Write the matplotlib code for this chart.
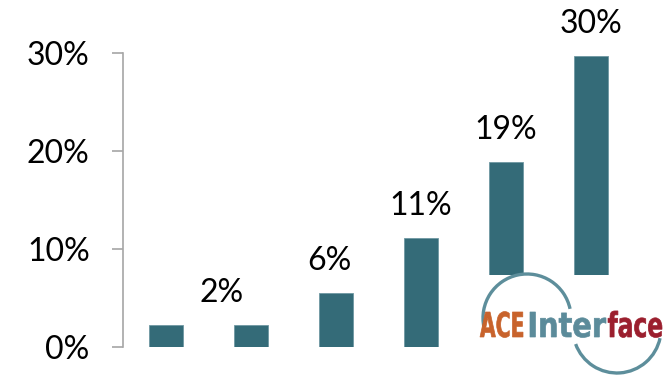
import matplotlib
matplotlib.use("Agg")
import matplotlib.pyplot as plt
from matplotlib.patches import Rectangle, Arc, PathPatch
from matplotlib.textpath import TextPath
from matplotlib.font_manager import FontProperties
from matplotlib.transforms import Affine2D

# Data
categories = ["A", "B", "C", "D", "E", "F"]
values = [2.2, 2.2, 5.5, 11.1, 18.9, 29.7]
labels = ["", "2%", "6%", "11%", "19%", "30%"]
label_dx = [0.0, -0.35, -0.08, 0.0, 0.0, 0.0]
yticks = [0, 10, 20, 30]
ytick_labels = ["0%", "10%", "20%", "30%"]

W, H = 664, 383
fig = plt.figure(figsize=(W / 100, H / 100), dpi=100)
plt.rcParams["font.family"] = ["Lato", "DejaVu Sans"]

bar_color = "#346b78"
axis_color = "#a6a6a6"

ax = fig.add_axes([123 / W, 36 / H, (662 - 123) / W, 294 / H])
x = list(range(len(categories)))
ax.bar(x, values, width=0.4, color=bar_color, edgecolor="#6f98a2", linewidth=0.6)
ax.set_xlim(-0.506, 5.84)
ax.set_ylim(0, 30)
ax.set_xticks([])
ax.set_yticks(yticks)
ax.set_yticklabels(ytick_labels, fontsize=23, color="#000000")
ax.tick_params(axis="y", length=8, width=1.2, color=axis_color, pad=16)
for s in ["top", "right", "bottom"]:
    ax.spines[s].set_visible(False)
ax.spines["left"].set_color(axis_color)
ax.spines["left"].set_linewidth(1.2)

for xi, v, lab, dx in zip(x, values, labels, label_dx):
    if lab:
        ax.annotate(lab, (xi + dx, v), xytext=(0, 23), textcoords="offset points",
                    ha="center", va="center", fontsize=23, annotation_clip=False)

# Logo overlay in pixel coordinates
ov = fig.add_axes([0, 0, 1, 1])
ov.set_xlim(0, W)
ov.set_ylim(H, 0)
ov.axis("off")
ov.patch.set_alpha(0)

ov.add_patch(Rectangle((470, 275), W - 470, H - 275, facecolor="white", edgecolor="none"))

arc_color = "#5d8e9b"
ov.add_patch(Arc((527, 318), 88, 88, theta1=-192, theta2=-12, color=arc_color, lw=2.4))
ov.add_patch(Arc((617, 329), 88, 88, theta1=12, theta2=160, color=arc_color, lw=2.4))

fp = FontProperties(family="DejaVu Sans", weight="bold")
size = 35
words = [("ACE", 480, 523, "#c8632c"), ("Inter", 530, 606, "#5b8b9a"), ("face", 608, 662, "#9b1f2e")]
baseline = 337
cap_top = 312
for w, x0, x1, col in words:
    tp = TextPath((0, 0), w, size=size, prop=fp)
    ext = tp.get_extents()
    cap = TextPath((0, 0), "I", size=size, prop=fp).get_extents().y1
    sx = (x1 - x0) / ext.width
    sy = (baseline - cap_top) / cap
    tr = Affine2D().translate(-ext.x0, 0).scale(sx, -sy).translate(x0, baseline)
    path = tr.transform_path(tp)
    ov.add_patch(PathPatch(path, facecolor=col, edgecolor=col, lw=0.5))

fig.savefig("out.png", dpi=100)
